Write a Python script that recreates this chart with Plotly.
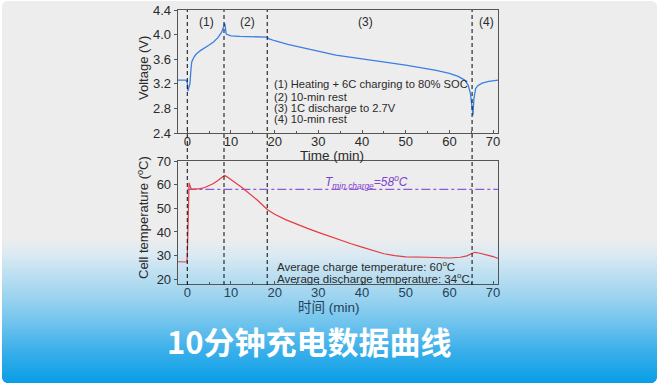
import plotly.graph_objects as go
import math

# ---------------- data ----------------
time_v = [-2.2, -0.3, 0.0, 0.15, 0.4, 0.6, 0.8, 1.0, 1.5, 2.0, 3.0, 4.0, 5.0, 6.0, 7.0, 7.8, 8.4,
          8.6, 8.9, 10.0, 12.0, 15.0, 18.3, 18.6, 20, 23, 26, 30, 34, 38, 42, 46, 50, 54, 57, 60,
          62, 63.5, 64.3, 64.8, 65.2, 65.4, 65.6, 66.0, 66.5, 67.5, 69, 71.2]
voltage = [3.26, 3.26, 3.22, 3.08, 3.15, 3.2, 3.4, 3.55, 3.63, 3.68, 3.74, 3.78, 3.83, 3.88, 3.95,
           4.03, 4.15, 4.18, 4.01, 3.98, 3.97, 3.965, 3.96, 3.935, 3.9, 3.84, 3.79, 3.73, 3.665,
           3.625, 3.58, 3.545, 3.505, 3.46, 3.42, 3.37, 3.32, 3.26, 3.18, 3.05, 2.8, 2.69, 2.95,
           3.12, 3.17, 3.21, 3.24, 3.26]

time_t = [-2.2, -0.1, 0.0, 0.2, 0.4, 0.6, 0.9, 1.5, 3, 4, 5, 6, 7, 8, 8.5, 9, 10, 11, 12.5, 14, 16,
          18.3, 20, 22.5, 25, 27.5, 30, 32.5, 35, 37.5, 40, 42.5, 45, 47.5, 50, 55, 60, 62.5, 64,
          65, 65.8, 67, 68.5, 70, 71.2]
temperature = [27.4, 27.3, 30, 45, 60.8, 59.5, 58.2, 58.1, 58.3, 58.8, 59.5, 60.5, 61.8, 63.2, 63.9,
               63.4, 62.2, 60.8, 58.8, 56.5, 53.5, 49.5, 47.5, 45.2, 43.2, 41.5, 39.8, 38.1, 36.4,
               35.0, 33.6, 32.3, 30.8, 30.0, 29.5, 29.3, 29.0, 29.3, 29.9, 30.8, 31.4, 31.0, 30.4,
               29.6, 28.8]

t_min_charge = 58
phase_bounds = [0, 8.4, 18.3, 65.2]
phase_labels = ["(1)", "(2)", "(3)", "(4)"]
phase_label_x = [4.3, 13.8, 40.8, 68.5]
legend_lines = ["(1) Heating + 6C charging to 80% SOC", "(2) 10-min rest",
                "(3) 1C discharge to 2.7V", "(4) 10-min rest"]
legend_y = [3.19, 2.99, 2.81, 2.62]
avg_lines = ["Average charge temperature: 60<sup>o</sup>C",
             "Average discharge temperature: 34<sup>o</sup>C"]
avg_y = [25.6, 20.6]
v_ticks = [2.4, 2.8, 3.2, 3.6, 4.0, 4.4]
t_ticks = [20, 30, 40, 50, 60, 70]
x_ticks = [0, 10, 20, 30, 40, 50, 60, 70]
title_text = "10分钟充电数据曲线"

# ---------------- geometry helpers ----------------
W, H = 659, 385
def px(x):
    return x / W
def py(y):
    return 1 - y / H

FONT = "Arial, Liberation Sans, Noto Sans CJK SC, sans-serif"
TXT = "#2a2a2a"

fig = go.Figure()

fig.add_trace(go.Scatter(x=time_v, y=voltage, mode="lines", xaxis="x", yaxis="y",
                         line=dict(color="#3b7fe3", width=1.3), showlegend=False,
                         hoverinfo="skip"))
fig.add_trace(go.Scatter(x=[0, 71.2], y=[t_min_charge, t_min_charge], mode="lines",
                         xaxis="x2", yaxis="y2",
                         line=dict(color="#9457d6", width=1.2, dash="dashdot"),
                         showlegend=False, hoverinfo="skip"))
fig.add_trace(go.Scatter(x=time_t, y=temperature, mode="lines", xaxis="x2", yaxis="y2",
                         line=dict(color="#e83a40", width=1.2), showlegend=False,
                         hoverinfo="skip"))

shapes = []
# card background (rounded)
x0, x1, y0, y1, r = 2, 657, 1, 383, 6
rx, ry = r / W, r / H
X0, X1, Y0, Y1 = px(x0), px(x1), py(y1), py(y0)
path = (f"M {X0+rx},{Y1} L {X1-rx},{Y1} Q {X1},{Y1} {X1},{Y1-ry} "
        f"L {X1},{Y0+ry} Q {X1},{Y0} {X1-rx},{Y0} L {X0+rx},{Y0} Q {X0},{Y0} {X0},{Y0+ry} "
        f"L {X0},{Y1-ry} Q {X0},{Y1} {X0+rx},{Y1} Z")
shapes.append(dict(type="path", path=path, xref="paper", yref="paper",
                   fillcolor="#ededed", line=dict(width=0), layer="below"))

# gradient strips
stops = [(238, (237, 237, 237)), (255, (218, 234, 243)), (275, (188, 223, 241)),
         (298, (155, 211, 239)), (325, (108, 194, 237)), (352, (56, 174, 234)),
         (383, (8, 158, 230))]
def grad(y):
    for (ya, ca), (yb, cb) in zip(stops[:-1], stops[1:]):
        if ya <= y <= yb:
            f = (y - ya) / (yb - ya)
            return tuple(int(round(a + (b - a) * f)) for a, b in zip(ca, cb))
    return stops[-1][1]
for yy in range(238, 383):
    c = grad(yy + 0.5)
    d = y1 - (yy + 0.5)
    inset = 0.0
    if d < r:
        inset = r - math.sqrt(max(r * r - (r - d) ** 2, 0))
    shapes.append(dict(type="rect", xref="paper", yref="paper",
                       x0=px(x0 + inset), x1=px(x1 - inset), y0=py(yy + 1.05), y1=py(yy),
                       fillcolor=f"rgb{c}", line=dict(width=0), layer="below"))

# phase boundaries
for b in phase_bounds:
    shapes.append(dict(type="line", xref="x", yref="paper", x0=b, x1=b,
                       y0=py(285), y1=py(10),
                       line=dict(color="#1a1a1a", width=1.1, dash="4px,3px"), layer="above"))

annotations = []
for lab, xv in zip(phase_labels, phase_label_x):
    annotations.append(dict(x=xv, y=4.21, xref="x", yref="y", text=lab, showarrow=False,
                            xanchor="center", yanchor="middle",
                            font=dict(size=12, color=TXT, family=FONT)))
for lab, yv in zip(legend_lines, legend_y):
    annotations.append(dict(x=19.3, y=yv, xref="x", yref="y", text=lab, showarrow=False,
                            xanchor="left", yanchor="middle",
                            font=dict(size=11.2, color=TXT, family=FONT)))
for lab, yv in zip(avg_lines, avg_y):
    annotations.append(dict(x=20, y=yv, xref="x2", yref="y2", text=lab, showarrow=False,
                            xanchor="left", yanchor="middle",
                            font=dict(size=11.5, color=TXT, family=FONT)))
annotations.append(dict(x=31, y=61.3, xref="x2", yref="y2", xanchor="left", yanchor="middle",
                        text="<i>T<sub>min,charge</sub>=58<sup>o</sup>C</i>", showarrow=False,
                        font=dict(size=12, color="#8040d0", family=FONT)))
# axis titles
annotations.append(dict(x=px(143), y=py(68), xref="paper", yref="paper", text="Voltage (V)",
                        textangle=-90, showarrow=False, xanchor="center", yanchor="middle",
                        font=dict(size=13, color=TXT, family=FONT)))
annotations.append(dict(x=px(143), y=py(218), xref="paper", yref="paper",
                        text="Cell temperature (<sup>o</sup>C)", textangle=-90, showarrow=False,
                        xanchor="center", yanchor="middle",
                        font=dict(size=13, color=TXT, family=FONT)))
annotations.append(dict(x=px(332), y=py(155), xref="paper", yref="paper", text="Time (min)",
                        showarrow=False, xanchor="center", yanchor="middle",
                        font=dict(size=13.5, color=TXT, family=FONT)))
annotations.append(dict(x=px(329), y=py(307), xref="paper", yref="paper", text="时间 (min)",
                        showarrow=False, xanchor="center", yanchor="middle",
                        font=dict(size=13.5, color="#24425a", family=FONT)))
annotations.append(dict(x=px(309), y=py(340), xref="paper", yref="paper",
                        text=f"<b>{title_text}</b>", showarrow=False,
                        xanchor="center", yanchor="middle",
                        font=dict(size=31, color="white",
                                  family="Noto Sans CJK SC, Noto Sans, sans-serif")))

xdom = [px(177.7), px(498.3)]
common_x = dict(range=[-2.2, 71.2], tickvals=x_ticks, showline=True, mirror=True,
                linecolor="#555", linewidth=1, ticks="inside", ticklen=3, tickcolor="#555",
                showgrid=False, zeroline=False, automargin=False, ticklabelstandoff=-4,
                minor=dict(ticks="inside", ticklen=2, tickcolor="#555", dtick=5, showgrid=False),
                tickfont=dict(size=13, color=TXT, family=FONT))
common_y = dict(showline=True, mirror=True, linecolor="#555", linewidth=1, ticks="outside",
                ticklen=3, tickcolor="#555", showgrid=False, zeroline=False, automargin=False,
                tickfont=dict(size=13, color=TXT, family=FONT))

fig.update_layout(
    width=W, height=H, margin=dict(l=0, r=0, t=0, b=0),
    paper_bgcolor="white", plot_bgcolor="rgba(0,0,0,0)",
    xaxis=dict(domain=xdom, anchor="y", **common_x),
    yaxis=dict(domain=[py(133), py(10)], anchor="x", range=[2.4, 4.4], tickvals=v_ticks,
               ticktext=[f"{v:.1f}" for v in v_ticks], **common_y),
    xaxis2=dict(domain=xdom, anchor="y2", **{**common_x,
                "tickfont": dict(size=13, color="#24425a", family=FONT)}),
    yaxis2=dict(domain=[py(284), py(161)], anchor="x2", range=[18, 70], tickvals=t_ticks,
                **common_y),
    shapes=shapes, annotations=annotations, showlegend=False,
)

fig.write_html("out.html", config={"displayModeBar": False},
               post_script="document.body.style.margin='0';document.body.style.padding='0';"
                           "document.documentElement.style.overflow='hidden';")
